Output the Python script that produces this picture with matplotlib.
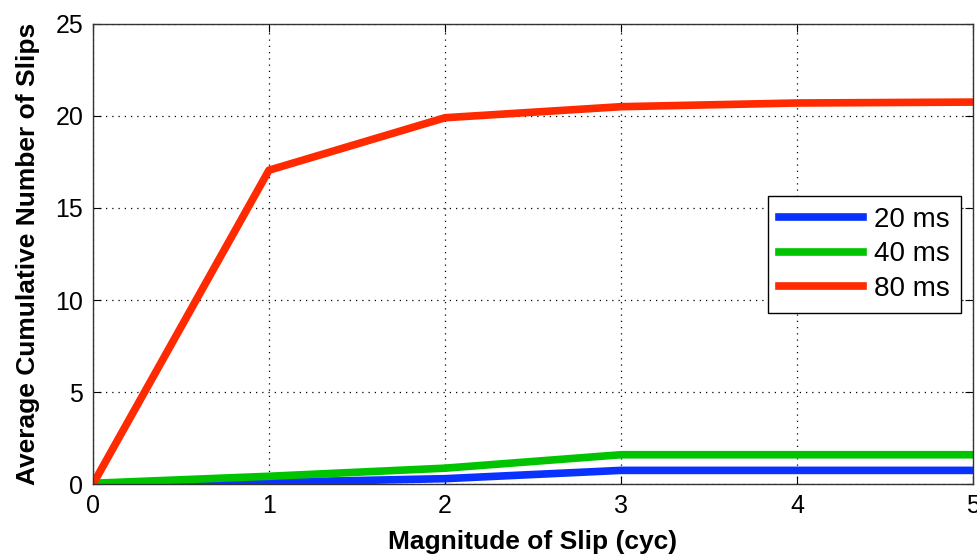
import matplotlib.pyplot as plt
import numpy as np

plt.rcParams['font.family'] = ['Liberation Sans', 'DejaVu Sans']

slip = [0, 1, 2, 3, 4, 5]
ms20 = [0, 0.1, 0.3, 0.75, 0.75, 0.75]
ms40 = [0.05, 0.43, 0.87, 1.6, 1.6, 1.6]
ms80 = [0, 17.05, 19.9, 20.5, 20.7, 20.75]

fig = plt.figure(figsize=(9.78, 5.54), dpi=100)
ax = fig.add_axes([0.095, 0.126, 0.9, 0.831])

ax.plot(slip, ms20, color="#0a32ff", linewidth=5.5, label="20 ms")
ax.plot(slip, ms40, color="#00c400", linewidth=5.5, label="40 ms")
ax.plot(slip, ms80, color="#ff2a00", linewidth=5.5, label="80 ms")

ax.set_xlim(0, 5)
ax.set_ylim(0, 25)
ax.set_xticks(range(0, 6))
ax.set_yticks(range(0, 26, 5))
ax.tick_params(direction='in', top=True, right=True, labelsize=18, length=6, pad=7)
ax.grid(True, color='black', linestyle=(0, (1, 4)), linewidth=0.9)
for s in ax.spines.values():
    s.set_linewidth(1.0)
    s.set_color('#333333')

ax.set_xlabel('Magnitude of Slip (cyc)', fontsize=19, fontweight='bold', labelpad=9)
ax.set_ylabel('Average Cumulative Number of Slips', fontsize=19, fontweight='bold', labelpad=11)

leg = ax.legend(loc='upper right', bbox_to_anchor=(0.986, 0.626), borderaxespad=0,
                fontsize=20, fancybox=False, framealpha=1, edgecolor='black',
                handlelength=3.0, handletextpad=0.4, borderpad=0.4, labelspacing=0.3)
leg.get_frame().set_linewidth(1.0)

plt.savefig('out.png', dpi=100)
